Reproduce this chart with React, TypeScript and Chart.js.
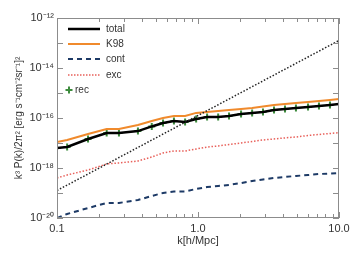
import React, { useEffect, useRef } from "react";
import { Chart, registerables } from "chart.js";

Chart.register(...registerables);

const kValues = [0.1, 0.118, 0.166, 0.225, 0.275, 0.375, 0.47, 0.565, 0.675, 0.81, 0.97, 1.16, 1.39, 1.66, 2.02, 2.42, 2.89, 3.46, 4.14, 4.95, 6.03, 7.21, 8.63, 10];
const totalValues = [6.3e-18, 6.9e-18, 1.45e-17, 2.5e-17, 2.5e-17, 3.0e-17, 4.6e-17, 6.3e-17, 7.6e-17, 6.9e-17, 9.1e-17, 1.1e-16, 1.1e-16, 1.2e-16, 1.45e-16, 1.6e-16, 1.74e-16, 2.1e-16, 2.3e-16, 2.5e-16, 2.75e-16, 3.0e-16, 3.3e-16, 3.6e-16];
const k98Values = [1.1e-17, 1.32e-17, 2.3e-17, 3.6e-17, 3.6e-17, 5.25e-17, 7.6e-17, 1.0e-16, 1.2e-16, 1.2e-16, 1.6e-16, 1.74e-16, 1.9e-16, 2.1e-16, 2.3e-16, 2.5e-16, 2.9e-16, 3.3e-16, 3.6e-16, 4.0e-16, 4.4e-16, 4.8e-16, 5.25e-16, 5.75e-16];
const contValues = [1.0e-20, 1.45e-20, 2.5e-20, 4.0e-20, 4.0e-20, 5.25e-20, 7.6e-20, 1.0e-19, 1.15e-19, 1.15e-19, 1.45e-19, 1.74e-19, 1.9e-19, 2.1e-19, 2.5e-19, 3.0e-19, 3.5e-19, 4.0e-19, 4.4e-19, 4.8e-19, 5.25e-19, 5.75e-19, 6.0e-19, 6.3e-19];
const excValues = [4.0e-19, 5.25e-19, 8.3e-19, 1.45e-18, 1.6e-18, 1.9e-18, 2.75e-18, 4.0e-18, 4.8e-18, 4.8e-18, 5.75e-18, 6.9e-18, 7.6e-18, 8.7e-18, 1.0e-17, 1.15e-17, 1.32e-17, 1.45e-17, 1.6e-17, 1.74e-17, 2.0e-17, 2.2e-17, 2.4e-17, 2.6e-17];
const recValues = [6.3e-18, 6.9e-18, 1.45e-17, 2.5e-17, 2.5e-17, 3.0e-17, 4.6e-17, 6.3e-17, 7.6e-17, 6.9e-17, 9.1e-17, 1.1e-16, 1.1e-16, 1.2e-16, 1.45e-16, 1.6e-16, 1.74e-16, 2.1e-16, 2.3e-16, 2.5e-16, 2.75e-16, 3.0e-16, 3.3e-16, null];
const k3Ks = [0.1, 1, 10];
const k3Values = [1.26e-19, 1.26e-16, 1.26e-13];

const xTickValues = [0.1, 1, 10];
const xTickLabels = ["0.1", "1.0", "10.0"];
const yDecades = [-20, -19, -18, -17, -16, -15, -14, -13, -12];
const yLabelDecades = [-20, -18, -16, -14, -12];

const xTitle = "k[h/Mpc]";
const yTitle = "k\u00B3 P(k)/2\u03C0\u00B2 [erg s\u207B\u00B9cm\u207B\u00B2sr\u207B\u00B9]\u00B2";

const legendItems = [
  { label: "total", color: "#000000", width: 2.5, dash: [] as number[], kind: "line" },
  { label: "K98", color: "#f08a2c", width: 2, dash: [] as number[], kind: "line" },
  { label: "cont", color: "#1d3a66", width: 2, dash: [5, 4], kind: "line" },
  { label: "exc", color: "#e8605a", width: 1.5, dash: [1.5, 1.5], kind: "line" },
  { label: "rec", color: "#3d8c3d", width: 2, dash: [] as number[], kind: "marker" },
];

const SUP: Record<string, string> = { "-": "\u207B", "0": "\u2070", "1": "\u00B9", "2": "\u00B2", "3": "\u00B3", "4": "\u2074", "5": "\u2075", "6": "\u2076", "7": "\u2077", "8": "\u2078", "9": "\u2079" };
const sup = (n: number) => String(n).split("").map((c) => SUP[c] || c).join("");

const FONT = "'Liberation Sans', Arial, sans-serif";

function pts(xs: number[], ys: (number | null)[]) {
  return xs.map((x, i) => ({ x, y: ys[i] }));
}

const framePlugin = {
  id: "framePlugin",
  afterDraw(chart: any) {
    const { ctx, chartArea: a, scales } = chart;
    const xs = scales.x;
    const ys = scales.y;
    ctx.save();
    ctx.strokeStyle = "#8c8c8c";
    ctx.lineWidth = 1;
    ctx.setLineDash([]);
    ctx.strokeRect(a.left + 0.5, a.top + 0.5, a.right - a.left - 1, a.bottom - a.top - 1);
    ctx.beginPath();
    for (let d = -1; d <= 1; d++) {
      for (let m = 1; m <= 9; m++) {
        const v = m * Math.pow(10, d);
        if (v > 10.0001) continue;
        const px = Math.round(xs.getPixelForValue(v)) + 0.5;
        const len = m === 1 ? 6 : 4;
        ctx.moveTo(px, a.bottom);
        ctx.lineTo(px, a.bottom - len);
        ctx.moveTo(px, a.top);
        ctx.lineTo(px, a.top + len);
      }
    }
    yDecades.forEach((d) => {
      const py = Math.round(ys.getPixelForValue(Math.pow(10, d))) + 0.5;
      ctx.moveTo(a.left, py);
      ctx.lineTo(a.left + 6, py);
      ctx.moveTo(a.right, py);
      ctx.lineTo(a.right - 6, py);
    });
    ctx.stroke();

    ctx.fillStyle = "#333333";
    ctx.textAlign = "center";
    ctx.textBaseline = "middle";
    ctx.font = `11px ${FONT}`;
    ctx.fillText(xTitle, (a.left + a.right) / 2, 241);
    ctx.font = `10px ${FONT}`;
    ctx.save();
    ctx.translate(19, (a.top + a.bottom) / 2);
    ctx.rotate(-Math.PI / 2);
    ctx.fillText(yTitle, 0, 0);
    ctx.restore();

    const rows = [29, 44, 59, 75, 90];
    ctx.textAlign = "left";
    ctx.font = `10px ${FONT}`;
    legendItems.forEach((it, i) => {
      const y = rows[i];
      if (it.kind === "line") {
        ctx.beginPath();
        ctx.strokeStyle = it.color;
        ctx.lineWidth = it.width;
        ctx.setLineDash(it.dash);
        ctx.moveTo(68, y);
        ctx.lineTo(100, y);
        ctx.stroke();
        ctx.setLineDash([]);
        ctx.fillStyle = "#333333";
        ctx.fillText(it.label, 106, y);
      } else {
        ctx.beginPath();
        ctx.strokeStyle = it.color;
        ctx.lineWidth = 2;
        ctx.moveTo(65.5, y);
        ctx.lineTo(72.5, y);
        ctx.moveTo(69, y - 3.5);
        ctx.lineTo(69, y + 3.5);
        ctx.stroke();
        ctx.fillStyle = "#333333";
        ctx.fillText(it.label, 75, y);
      }
    });
    ctx.restore();
  },
};

export default function App() {
  const ref = useRef<HTMLCanvasElement | null>(null);
  useEffect(() => {
    document.body.style.margin = "0";
    const canvas = ref.current!;
    const chart = new Chart(canvas, {
      type: "line",
      data: {
        datasets: [
          { label: "k3", data: pts(k3Ks, k3Values), borderColor: "#222222", borderWidth: 1.5, borderDash: [1.5, 1.8], pointRadius: 0, fill: false },
          { label: "cont", data: pts(kValues, contValues), borderColor: "#1d3a66", borderWidth: 2, borderDash: [5, 4], pointRadius: 0, fill: false },
          { label: "exc", data: pts(kValues, excValues), borderColor: "#e8605a", borderWidth: 1.5, borderDash: [1.5, 1.8], pointRadius: 0, fill: false },
          { label: "K98", data: pts(kValues, k98Values), borderColor: "#f08a2c", borderWidth: 2, pointRadius: 0, fill: false },
          { label: "total", data: pts(kValues, totalValues), borderColor: "#000000", borderWidth: 2.5, pointRadius: 0, fill: false },
          { label: "rec", data: pts(kValues, recValues), showLine: false, borderColor: "#3d8c3d", backgroundColor: "#3d8c3d", pointStyle: "cross", pointRadius: 3.5, pointBorderWidth: 2, fill: false },
        ],
      },
      options: {
        animation: false,
        responsive: false,
        maintainAspectRatio: false,
        events: [],
        layout: { padding: { top: 18, right: 18, left: 0, bottom: 0 } },
        plugins: { legend: { display: false }, tooltip: { enabled: false } },
        scales: {
          x: {
            type: "logarithmic",
            min: 0.1,
            max: 10,
            grid: { display: false, drawTicks: false },
            border: { display: false },
            afterBuildTicks: (s: any) => { s.ticks = xTickValues.map((v) => ({ value: v })); },
            afterFit: (s: any) => { s.height = 37; },
            ticks: {
              autoSkip: false,
              maxRotation: 0,
              padding: 4,
              color: "#333333",
              font: { family: FONT, size: 11 },
              callback: (v: any) => { const i = xTickValues.findIndex((t) => Math.abs(t - v) < 1e-9); return i >= 0 ? xTickLabels[i] : ""; },
            },
          },
          y: {
            type: "logarithmic",
            min: 1e-20,
            max: 1e-12,
            grid: { display: false, drawTicks: false },
            border: { display: false },
            afterBuildTicks: (s: any) => { s.ticks = yLabelDecades.map((d) => ({ value: Math.pow(10, d) })); },
            afterFit: (s: any) => { s.width = 57; },
            ticks: {
              autoSkip: false,
              padding: 3,
              color: "#333333",
              font: { family: FONT, size: 11 },
              callback: (v: any) => "10" + sup(Math.round(Math.log10(v))),
            },
          },
        },
      },
      plugins: [framePlugin],
    } as any);
    return () => chart.destroy();
  }, []);
  return (
    <div style={{ width: 357, height: 255 }}>
      <canvas ref={ref} width={357} height={255} style={{ display: "block", width: 357, height: 255 }} />
    </div>
  );
}
